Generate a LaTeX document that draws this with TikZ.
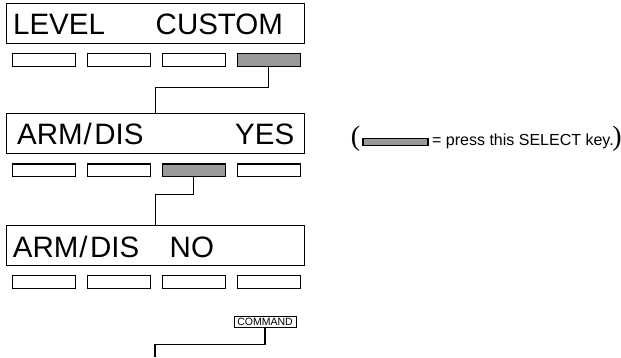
\documentclass[tikz,border=0pt]{standalone}
\usepackage{fontspec}
\setmainfont{Liberation Sans}
\newfontfamily\parenfont{Liberation Serif}
\usetikzlibrary{positioning}
\usepackage{xcolor}

\begin{document}
\begin{tikzpicture}[
x=1pt, y=-1pt,
node distance=10.8pt,
display/.style={draw,
line width=1.1pt,
minimum width=298pt,
minimum height=40pt,
anchor=north west,
inner sep=0pt},
lcd/.style={font=\fontsize{29.5}{29.5}\selectfont, anchor=base west, inner sep=0pt},
key/.style={draw,
line width=1.1pt,
minimum width=63pt,
minimum height=12.6pt,
inner sep=0pt},
pressed/.style={key, fill=black!40},
link/.style={line width=1.1pt}
]

\useasboundingbox (0,0) rectangle (621,357);

% first screen
\node[display] (disp1) at (6,3) {};
\node[lcd] (lvl) at (12.9,34.3) {LEVEL};
\node[lcd] (cust) at (155.5,34.3) {CUSTOM};
\node[key, below=9pt of disp1.south west, anchor=north west, xshift=6pt] (k11) {};
\node[key, right=of k11] (k12) {};
\node[key, right=of k12] (k13) {};
\node[pressed, right=of k13] (k14) {};

% second screen
\node[display] (disp2) at (6,113.3) {};
\node[lcd] (arm2) at (17,144.7) {ARM\kern1pt/\kern2.5pt DIS};
\node[lcd] (yes) at (235,144.7) {YES};
\node[key, below=9pt of disp2.south west, anchor=north west, xshift=6pt] (k21) {};
\node[key, right=of k21] (k22) {};
\node[pressed, right=of k22] (k23) {};
\node[key, right=of k23] (k24) {};

% third screen
\node[display] (disp3) at (6,225) {};
\node[lcd] (arm3) at (12.7,257.3) {ARM\kern1pt/\kern2.5pt DIS};
\node[lcd] (no) at (169.5,257.3) {NO};
\node[key, below=9pt of disp3.south west, anchor=north west, xshift=6pt] (k31) {};
\node[key, right=of k31] (k32) {};
\node[key, right=of k32] (k33) {};
\node[key, right=of k33] (k34) {};

% command key
\node[draw, line width=0.9pt, minimum width=62pt, minimum height=10.5pt, inner sep=0pt,
font=\fontsize{10.5}{10.5}\selectfont] (cmd) at (265,321.7) {COMMAND};
\coordinate (exit) at (155,357);

% legend
\node[font=\parenfont\fontsize{28}{28}\selectfont, inner sep=0pt] (lpar) at (355.5,139) {(};
\node[pressed, minimum width=65pt, minimum height=7.5pt] (legkey) at (395.5,142) {};
\node[font=\fontsize{16}{16}\selectfont, anchor=base west, inner sep=0pt] (legtxt) at (432,145.5) {= press this SELECT key.};
\node[font=\parenfont\fontsize{28}{28}\selectfont, inner sep=0pt] (rpar) at (617,139) {)};

\draw[link] (k14.south) -- ++(0,21) -| (disp2.north);
\draw[link] (k23.south) -- ++(0,17) -| (disp3.north);
\draw[link] (cmd.south) -- ++(0,17) -| (exit);

\end{tikzpicture}
\end{document}
